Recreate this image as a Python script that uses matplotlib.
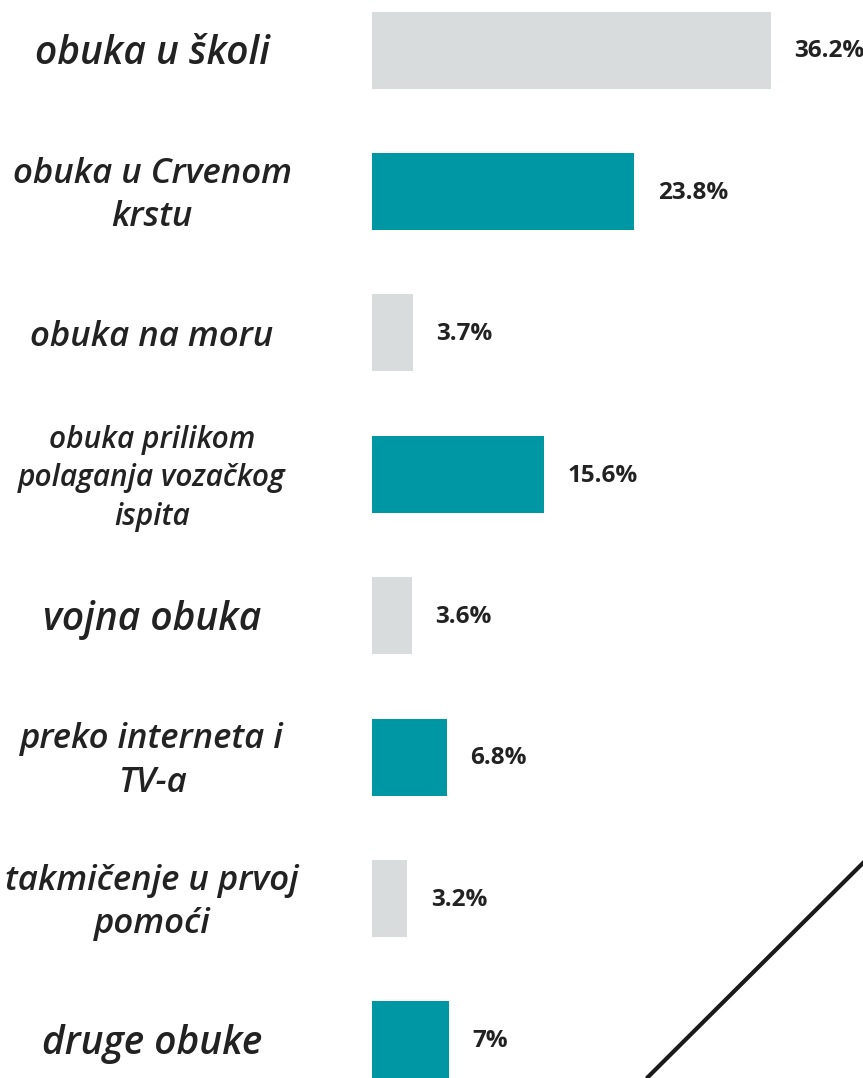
import matplotlib
matplotlib.use("Agg")
import matplotlib.pyplot as plt
from matplotlib.lines import Line2D

CATEGORIES = [
    "obuka u školi",
    "obuka u Crvenom\nkrstu",
    "obuka na moru",
    "obuka prilikom\npolaganja vozačkog\nispita",
    "vojna obuka",
    "preko interneta i\nTV-a",
    "takmičenje u prvoj\npomoći",
    "druge obuke",
]
VALUES = [36.2, 23.8, 3.7, 15.6, 3.6, 6.8, 3.2, 7.0]
VALUE_LABELS = ["36.2%", "23.8%", "3.7%", "15.6%", "3.6%", "6.8%", "3.2%", "7%"]
LABEL_SIZES = [28, 25, 25, 21.5, 28, 25, 25, 28]

GREY = "#D9DCDD"
TEAL = "#0097A5"
TEXT = "#222222"
BAR_COLORS = [GREY, TEAL, GREY, TEAL, GREY, TEAL, GREY, TEAL]

plt.rcParams["font.family"] = ["Open Sans", "DejaVu Sans"]

fig = plt.figure(figsize=(8.63, 10.78), dpi=100)
#el eje de barras empieza en x=372px y ocupa toda la altura
ax = fig.add_axes([372 / 863, 0, 1 - 372 / 863, 1])

pos = list(range(len(VALUES)))
ax.barh(pos, VALUES, height=0.545, color=BAR_COLORS, align="center")
ax.set_xlim(0, 36.2 * (863 - 372) / 399)
ax.set_ylim(7.27, -0.354)
ax.axis("off")

for p, v, lab in zip(pos, VALUES, VALUE_LABELS):
    ax.annotate(lab, (v, p), xytext=(17, -1), textcoords="offset points",
                ha="left", va="center", fontsize=17.5, fontweight="bold",
                color=TEXT)

#etiquetas de categoria centradas en x=150px
for p, cat, fs in zip(pos, CATEGORIES, LABEL_SIZES):
    ax.annotate(cat, (152 / 863, p), xycoords=("figure fraction", "data"),
                xytext=(0, -3), textcoords="offset points",
                ha="center", va="center", fontsize=fs, fontstyle="italic",
                fontweight="semibold", color=TEXT,
                linespacing=1.37 if fs > 24 else 1.36, annotation_clip=False)

#linea diagonal decorativa abajo a la derecha
fig.add_artist(Line2D([648 / 863, 1.0], [1 - 1077 / 1078, 1 - 863 / 1078],
                      transform=fig.transFigure, color="#1a1a1a", lw=3))

fig.savefig("out.png", dpi=100)
